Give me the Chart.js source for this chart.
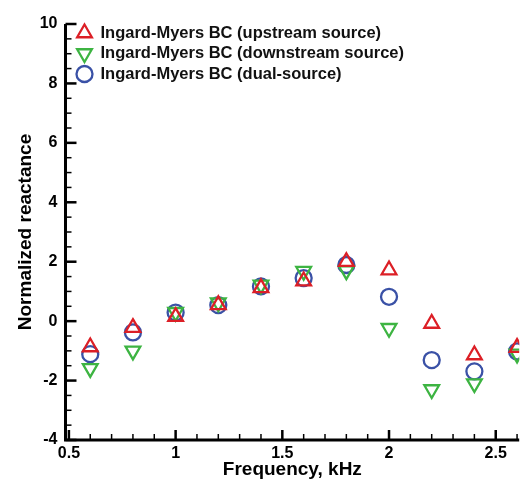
<!DOCTYPE html>
<html>
<head>
<meta charset="utf-8">
<script src="https://cdn.jsdelivr.net/npm/chart.js@4.4.1/dist/chart.umd.min.js"></script>
<style>
    html, body { margin: 0; padding: 0; background: #fff; }
    #wrap { width: 530px; height: 483px; }
</style>
</head>
<body>
<div id="wrap"><canvas id="chart"></canvas></div>
<script>
// frequency (kHz)
const freq = [0.6, 0.8, 1.0, 1.2, 1.4, 1.6, 1.8, 2.0, 2.2, 2.4, 2.6];
// normalized reactance
const upstream = [-0.87, -0.22, 0.15, 0.55, 1.12, 1.35, 2.0, 1.72, -0.08, -1.14, -0.89];
const downstream = [-1.59, -1.0, 0.3, 0.62, 1.22, 1.68, 1.7, -0.24, -2.3, -2.1, -1.1];
const dual = [-1.11, -0.38, 0.29, 0.54, 1.17, 1.45, 1.89, 0.82, -1.31, -1.69, -1.02];

const seriesLabels = [
    'Ingard-Myers BC (upstream source)',
    'Ingard-Myers BC (downstream source)',
    'Ingard-Myers BC (dual-source)'
];
const xTicks = [0.5, 1, 1.5, 2, 2.5];
const yTicks = [-4, -2, 0, 2, 4, 6, 8, 10];

const RED = '#dc1f26';
const GREEN = '#3db442';
const BLUE = '#3a51a6';
const FONT = "'Liberation Sans', Arial, Helvetica, sans-serif";

const toPoints = (ys) => ys.map((y, i) => ({ x: freq[i], y: y }));

// draws one legend marker
function drawMarker(ctx, ds, x, y) {
    const r = ds.pointRadius;
    ctx.save();
    ctx.strokeStyle = ds.borderColor;
    ctx.lineWidth = ds.pointBorderWidth;
    ctx.beginPath();
    if (ds.pointStyle === 'circle') {
        ctx.arc(x, y, r, 0, Math.PI * 2);
    } else {
        const flip = ds.pointRotation === 180 ? -1 : 1;
        const h = Math.sin(Math.PI / 3) * r;
        ctx.moveTo(x, y - flip * r);
        ctx.lineTo(x + h, y + flip * r / 2);
        ctx.lineTo(x - h, y + flip * r / 2);
        ctx.closePath();
    }
    ctx.stroke();
    ctx.restore();
}

// inward ticks, axis lines and the legend in the top left corner
const framePlugin = {
    id: 'frame',
    beforeDatasetsDraw(chart) {
        const ctx = chart.ctx;
        const xs = chart.scales.x;
        const ys = chart.scales.y;
        const area = chart.chartArea;
        ctx.save();
        ctx.strokeStyle = '#000';
        ctx.lineCap = 'butt';

        // x ticks
        for (let i = 5; i <= 26; i++) {
            const v = i / 10;
            const px = xs.getPixelForValue(v);
            const major = i % 5 === 0;
            ctx.lineWidth = major ? 2.5 : 1.5;
            ctx.beginPath();
            ctx.moveTo(px, area.bottom);
            ctx.lineTo(px, area.bottom - (major ? 10 : 6));
            ctx.stroke();
        }
        // y ticks
        for (let i = -8; i <= 20; i++) {
            const v = i / 2;
            const py = ys.getPixelForValue(v);
            const major = i % 4 === 0;
            ctx.lineWidth = major ? 2.5 : 1.5;
            ctx.beginPath();
            ctx.moveTo(area.left, py);
            ctx.lineTo(area.left + (major ? 11 : 6), py);
            ctx.stroke();
        }
        // axis lines
        ctx.lineWidth = 3;
        ctx.beginPath();
        ctx.moveTo(area.left, area.top);
        ctx.lineTo(area.left, area.bottom);
        ctx.lineTo(area.right, area.bottom);
        ctx.stroke();
        ctx.restore();
    },
    afterDraw(chart) {
        const ctx = chart.ctx;
        const area = chart.chartArea;
        ctx.save();
        ctx.font = 'bold 16.5px ' + FONT;
        ctx.fillStyle = '#111';
        ctx.textBaseline = 'middle';
        chart.data.datasets.forEach((ds, i) => {
            const y = area.top + 9 + i * 20.5;
            drawMarker(ctx, ds, area.left + 19, y);
            ctx.fillText(ds.label, area.left + 35, y);
        });
        ctx.restore();
    }
};

new Chart(document.getElementById('chart'), {
    type: 'scatter',
    data: {
        datasets: [
            {
                label: seriesLabels[0],
                data: toPoints(upstream),
                pointStyle: 'triangle',
                pointRotation: 0,
                pointRadius: 8.5,
                pointBorderWidth: 2.3,
                borderColor: RED,
                backgroundColor: 'rgba(0,0,0,0)'
            },
            {
                label: seriesLabels[1],
                data: toPoints(downstream),
                pointStyle: 'triangle',
                pointRotation: 180,
                pointRadius: 8.5,
                pointBorderWidth: 2.3,
                borderColor: GREEN,
                backgroundColor: 'rgba(0,0,0,0)'
            },
            {
                label: seriesLabels[2],
                data: toPoints(dual),
                pointStyle: 'circle',
                pointRadius: 8,
                pointBorderWidth: 2.3,
                borderColor: BLUE,
                backgroundColor: 'rgba(0,0,0,0)'
            }
        ]
    },
    options: {
        responsive: true,
        maintainAspectRatio: false,
        animation: false,
        events: [],
        layout: {
            padding: { left: 4, right: 9, top: 24, bottom: 0 }
        },
        plugins: {
            legend: { display: false },
            tooltip: { enabled: false }
        },
        scales: {
            x: {
                type: 'linear',
                min: 0.484,
                max: 2.61,
                afterBuildTicks: (scale) => { scale.ticks = xTicks.map(v => ({ value: v })); },
                afterFit: (scale) => { scale.height = 43; },
                grid: { display: false, drawTicks: false },
                border: { display: false },
                ticks: {
                    padding: 4,
                    color: '#000',
                    font: { family: FONT, size: 16, weight: 'bold' },
                    maxRotation: 0,
                    callback: (v) => String(v)
                },
                title: {
                    display: true,
                    text: 'Frequency, kHz',
                    color: '#000',
                    font: { family: FONT, size: 19, weight: 'bold' },
                    padding: { top: 0, bottom: 2 }
                }
            },
            y: {
                type: 'linear',
                min: -4,
                max: 10,
                afterBuildTicks: (scale) => { scale.ticks = yTicks.map(v => ({ value: v })); },
                afterFit: (scale) => { scale.width = 61.5; },
                grid: { display: false, drawTicks: false },
                border: { display: false },
                ticks: {
                    padding: 8,
                    color: '#000',
                    font: { family: FONT, size: 16, weight: 'bold' },
                    callback: (v) => String(v)
                },
                title: {
                    display: true,
                    text: 'Normalized reactance',
                    color: '#000',
                    font: { family: FONT, size: 19, weight: 'bold' },
                    padding: { top: 10, bottom: 0 }
                }
            }
        }
    },
    plugins: [framePlugin]
});
</script>
</body>
</html>
